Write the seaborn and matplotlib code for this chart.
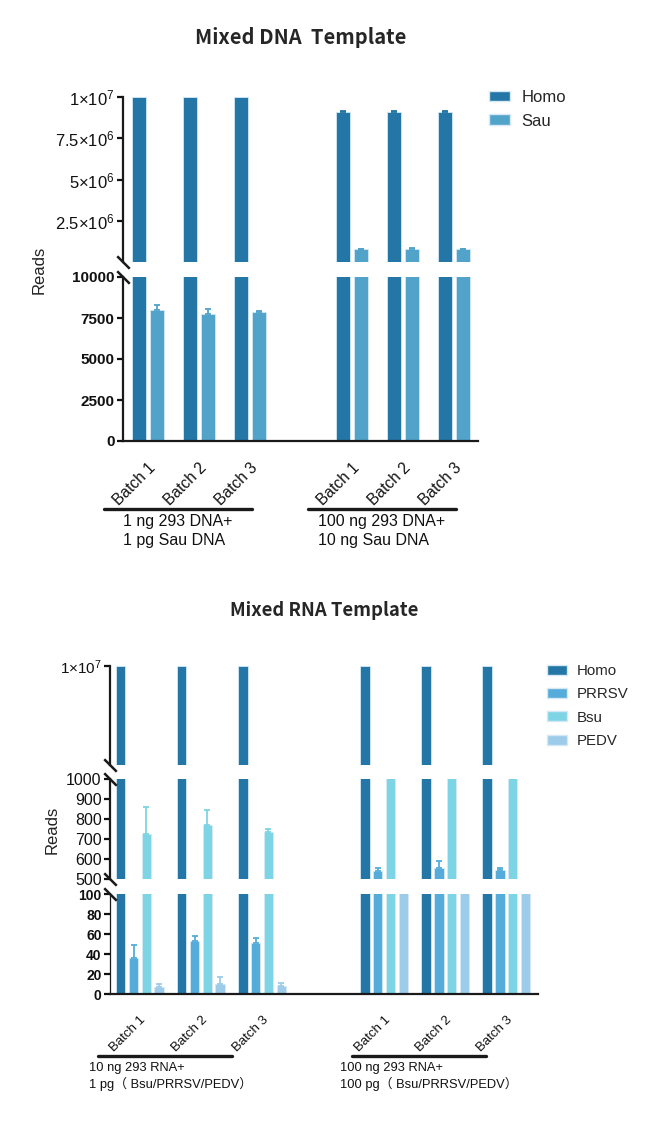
import numpy as np
import pandas as pd
import matplotlib
matplotlib.use('Agg')
import matplotlib.pyplot as plt
from matplotlib.patches import Patch
from matplotlib import transforms
import seaborn as sns

# ---- data ----
slots = ['g1b1', 'g1b2', 'g1b3', 'gap', 'g2b1', 'g2b2', 'g2b3']
data_slots = ['g1b1', 'g1b2', 'g1b3', 'g2b1', 'g2b2', 'g2b3']
tick_labels = ['Batch 1', 'Batch 2', 'Batch 3', '', 'Batch 1', 'Batch 2', 'Batch 3']

dna_species = ['Homo', 'Sau']
dna_homo = [1.0e7, 1.0e7, 1.0e7, 9.1e6, 9.1e6, 9.1e6]
dna_homo_err = [0, 0, 0, 4e4, 4e4, 4e4]
dna_sau = [7990, 7720, 7850, 8.0e5, 8.05e5, 8.0e5]
dna_sau_err = [300, 310, 100, 2.5e4, 2.5e4, 2.5e4]
dna_groups = ['1 ng 293 DNA+\n1 pg Sau DNA', '100 ng 293 DNA+\n10 ng Sau DNA']

rna_species = ['Homo', 'PRRSV', 'Bsu', 'PEDV']
rna_homo = [1.0e7, 1.0e7, 1.0e7, 1.0e7, 1.0e7, 1.0e7]
rna_homo_err = [0, 0, 0, 0, 0, 0]
rna_prrsv = [35.6, 53.5, 51.5, 540, 555, 545]
rna_prrsv_err = [13.8, 4.5, 4.4, 15, 35, 10]
rna_bsu = [725, 770, 735, 3000, 3000, 3000]
rna_bsu_err = [135, 75, 15, 0, 0, 0]
rna_pedv = [7.4, 10.4, 8.4, 300, 300, 300]
rna_pedv_err = [2.4, 6.4, 2.3, 0, 0, 0]
rna_groups = ['10 ng 293 RNA+\n1 pg（ Bsu/PRRSV/PEDV）',
              '100 ng 293 RNA+\n100 pg（ Bsu/PRRSV/PEDV）']

dna_palette = {'Homo': '#2376A6', 'Sau': '#51A3C9'}
rna_palette = {'Homo': '#2376A6', 'PRRSV': '#55ACDA', 'Bsu': '#7DD4E4', 'PEDV': '#9DCCEA'}


def long_table(species, values, errors):
    rows = []
    for sp, vals, errs in zip(species, values, errors):
        for s, v, e in zip(data_slots, vals, errs):
            rows.append({'slot': s, 'species': sp, 'reads': v, 'err': e})
    return pd.DataFrame(rows)


dna_df = long_table(dna_species, [dna_homo, dna_sau], [dna_homo_err, dna_sau_err])
rna_df = long_table(rna_species, [rna_homo, rna_prrsv, rna_bsu, rna_pedv],
                    [rna_homo_err, rna_prrsv_err, rna_bsu_err, rna_pedv_err])

sns.set_theme(style='white')
plt.rcParams['font.family'] = ['Liberation Sans', 'Noto Sans CJK SC']
plt.rcParams['mathtext.default'] = 'regular'

fig = plt.figure(figsize=(6.66, 11.27), dpi=100)
W, H = 666, 1127


def px_axes(left, top, right, bottom):
    return fig.add_axes([left / W, 1 - bottom / H, (right - left) / W, (bottom - top) / H])


def draw_bars(ax, df, hue_order, palette, width, gap, ylim, xlim):
    sns.barplot(data=df, x='slot', y='reads', hue='species', order=slots,
                hue_order=hue_order, palette=palette, width=width, gap=gap,
                saturation=1, errorbar=None, edgecolor='#d4e9f4', linewidth=0.6,
                legend=False, ax=ax)
    n = len(hue_order)
    for j, sp in enumerate(hue_order):
        # only error bars whose whisker is inside this segment of the broken axis
        sub = df[(df.species == sp) & (df.err > 0) &
                 (df.reads + df.err > ylim[0]) & (df.reads < ylim[1])]
        if sub.empty:
            continue
        off = (j - (n - 1) / 2) * width / n
        xs = [slots.index(s) + off for s in sub.slot]
        ax.errorbar(xs, sub.reads, yerr=[np.zeros(len(sub)), sub.err], fmt='none',
                    ecolor=palette[sp], elinewidth=1.3, capsize=2.5, capthick=1.3)
    ax.set_ylim(*ylim)
    ax.set_xlim(*xlim)
    ax.set_xlabel('')
    ax.set_ylabel('')
    for s in ['top', 'right']:
        ax.spines[s].set_visible(False)
    ax.tick_params(axis='y', direction='out', length=4, width=1.6, pad=2,
                   left=True, colors='#111111')


def hide_bottom(ax):
    ax.spines['bottom'].set_visible(False)
    ax.tick_params(axis='x', bottom=False, labelbottom=False)


def break_mark(ax, y):
    ax.plot([0], [y], marker=[(-1, 1), (1, -1)], markersize=9, mew=1.8,
            color='k', linestyle='none', transform=ax.transAxes, clip_on=False)


# ================= Mixed DNA Template =================
xlim_top = (-0.49, 6.47)
t1 = px_axes(123, 97, 478, 262)
t2 = px_axes(123, 277, 478, 441)
for ax, ylim in [(t1, (1e4, 1e7)), (t2, (0, 10000))]:
    draw_bars(ax, dna_df, dna_species, dna_palette, 0.706, 0.22, ylim, xlim_top)
    ax.spines['left'].set_linewidth(1.6)
    ax.spines['left'].set_color('k')
hide_bottom(t1)
t1.set_yticks([2.5e6, 5e6, 7.5e6, 1e7])
t1.set_yticklabels([r'$2.5{\times}10^{6}$', r'$5{\times}10^{6}$',
                    r'$7.5{\times}10^{6}$', r'$1{\times}10^{7}$'], fontsize=12)
t2.set_yticks([0, 2500, 5000, 7500, 10000])
t2.set_yticklabels(['0', '2500', '5000', '7500', '10000'], fontsize=11, fontweight='bold')
t2.spines['bottom'].set_linewidth(1.6)
t2.spines['bottom'].set_color('k')
t2.set_xticks(range(len(slots)))
t2.set_xticklabels(tick_labels, rotation=45, ha='right', rotation_mode='anchor', fontsize=11.2)
t2.tick_params(axis='x', bottom=False, pad=8, colors='#111111')
break_mark(t1, 0)
break_mark(t2, 1)

blend = transforms.blended_transform_factory(t2.transData, fig.transFigure)
for g0, label in zip([0, 4], dna_groups):
    t2.plot([g0 - 0.87, g0 + 2.03], [1 - 509 / H] * 2, color='k', lw=2.4,
            transform=blend, clip_on=False)
    t2.text(g0 + 0.58, 1 - 514 / H, label, transform=blend, ha='center', va='top',
            multialignment='left', fontsize=11.5, color='#111111', linespacing=1.3)

fig.text(0.451, 1 - 38 / H, 'Mixed DNA  Template', ha='center', va='center',
         fontsize=14.5, fontweight='bold', family=['Noto Sans CJK SC', 'DejaVu Sans'])
fig.text(39 / W, 1 - 270 / H, 'Reads', rotation=90, ha='center', va='center',
         fontsize=12, color='#222222')
fig.legend([Patch(facecolor=dna_palette[s], edgecolor='#d4e9f4') for s in dna_species],
           dna_species, loc='upper left', bbox_to_anchor=(489 / W, 1 - 90 / H),
           frameon=False, fontsize=12, handlelength=1.25, handleheight=0.6,
           handletextpad=0.7, labelspacing=0.52, borderpad=0, borderaxespad=0)

# ================= Mixed RNA Template =================
xlim_bot = (-0.49, 6.52)
b1 = px_axes(110, 666, 538, 765)
b2 = px_axes(110, 779, 538, 879)
b3 = px_axes(110, 894, 538, 994)
for ax, ylim in [(b1, (1e6, 1e7)), (b2, (500, 1000)), (b3, (0, 100))]:
    draw_bars(ax, rna_df, rna_species, rna_palette, 0.84, 0.26, ylim, xlim_bot)
    ax.spines['left'].set_linewidth(1.6)
    ax.spines['left'].set_color('k')
b3.spines['left'].set_linewidth(0.9)
hide_bottom(b1)
hide_bottom(b2)
b1.set_yticks([1e7])
b1.set_yticklabels([r'$1{\times}10^{7}$'], fontsize=11)
b2.set_yticks([500, 600, 700, 800, 900, 1000])
b2.set_yticklabels(['500', '600', '700', '800', '900', '1000'], fontsize=11.5)
b3.set_yticks([0, 20, 40, 60, 80, 100])
b3.set_yticklabels(['0', '20', '40', '60', '80', '100'], fontsize=10, fontweight='bold')
b3.spines['bottom'].set_linewidth(1.6)
b3.spines['bottom'].set_color('k')
b3.set_xticks(range(len(slots)))
b3.set_xticklabels(tick_labels, rotation=45, ha='right', rotation_mode='anchor', fontsize=9.5)
b3.tick_params(axis='x', bottom=False, pad=8, colors='#111111')
break_mark(b1, 0)
break_mark(b2, 1)
break_mark(b2, 0)
break_mark(b3, 1)

blend = transforms.blended_transform_factory(b3.transData, fig.transFigure)
for g0, (l0, l1), tx, label in zip([0, 4], [(-0.69, 1.51), (-0.52, 1.67)],
                                   [-0.84, -0.72], rna_groups):
    b3.plot([g0 + l0, g0 + l1], [1 - 1056 / H] * 2, color='k', lw=2.4,
            transform=blend, clip_on=False)
    b3.text(g0 + tx, 1 - 1062 / H, label, transform=blend, ha='left', va='top',
            fontsize=9.3, color='#111111', linespacing=1.25)

fig.text(324 / W, 1 - 610 / H, 'Mixed RNA Template', ha='center', va='center',
         fontsize=13.3, fontweight='bold', family=['Noto Sans CJK SC', 'DejaVu Sans'])
fig.text(52 / W, 1 - 830 / H, 'Reads', rotation=90, ha='center', va='center',
         fontsize=12, color='#222222')
fig.legend([Patch(facecolor=rna_palette[s], edgecolor='#d4e9f4') for s in rna_species],
           rna_species, loc='upper left', bbox_to_anchor=(547 / W, 1 - 664 / H),
           frameon=False, fontsize=10.8, handlelength=1.3, handleheight=0.66,
           handletextpad=0.68, labelspacing=0.62, borderpad=0, borderaxespad=0)

fig.savefig('out.png', dpi=100, facecolor='white')
